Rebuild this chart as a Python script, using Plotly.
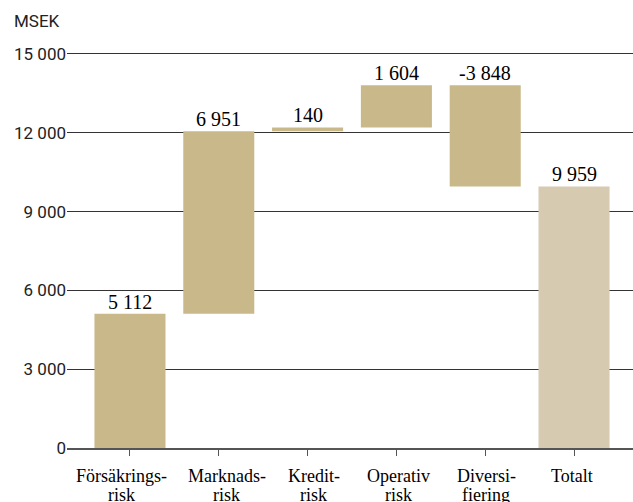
import plotly.graph_objects as go

categories = ["Försäkrings-<br>risk", "Marknads-<br>risk", "Kredit-<br>risk", "Operativ<br>risk", "Diversi-<br>fiering", "Totalt"]
values = [5112, 6951, 140, 1604, -3848, 9959]
measures = ["relative", "relative", "relative", "relative", "relative", "total"]
y_ticks = [0, 3000, 6000, 9000, 12000, 15000]

BAR = "#c9b98a"
TOTAL = "#d6cab1"

fig = go.Figure()
fig.add_trace(go.Waterfall(
    x=categories, y=values, measure=measures,
    width=0.8,
    increasing=dict(marker=dict(color=BAR)),
    decreasing=dict(marker=dict(color=BAR)),
    totals=dict(marker=dict(color=TOTAL)),
    connector=dict(visible=False),
    textposition="none",
    hoverinfo="skip",
))

def fmt(v):
    s = f"{abs(v):,}".replace(",", " ")
    return ("-" if v < 0 else "") + s

cum = 0
for c, v, m in zip(categories, values, measures):
    if m == "total":
        top = v
    else:
        top = max(cum, cum + v)
        cum += v
    fig.add_annotation(x=c, y=top, text=fmt(v), showarrow=False,
                       yanchor="bottom", yshift=-1,
                       font=dict(family="Liberation Serif", size=20, color="#000"))

# category labels, one annotation per line (tighter line spacing as in the original)
label_shift = [-8, 8, 6, 2, 1, -2]
for c, dx in zip(categories, label_shift):
    for i, line in enumerate(c.split("<br>")):
        fig.add_annotation(x=c, y=0, text=line, showarrow=False, yanchor="top",
                           yshift=-16 - 19 * i, xshift=dx,
                           font=dict(family="Liberation Serif", size=18, color="#000"))

fig.add_annotation(xref="paper", yref="paper", x=-0.097, y=1.074,
                   text="MSEK", showarrow=False, xanchor="left", yanchor="middle",
                   font=dict(family="Roboto", size=17, color="#222"))

fig.update_layout(
    width=633, height=502,
    margin=dict(l=67, r=0, t=50, b=54),
    plot_bgcolor="white", paper_bgcolor="white",
    showlegend=False,
    separators=". ",
    xaxis=dict(range=[-0.709, 5.664], showgrid=False, showline=True,
               linecolor="#555", linewidth=2, ticks="outside", ticklen=6,
               tickcolor="#555", showticklabels=False),
    yaxis=dict(range=[0, 15152], tickvals=y_ticks, tickformat=",", showgrid=True,
               gridcolor="#333", gridwidth=1, zeroline=False, showline=False,
               ticks="", tickfont=dict(family="Roboto", size=17, color="#222")),
)

fig.write_html("out.html")
